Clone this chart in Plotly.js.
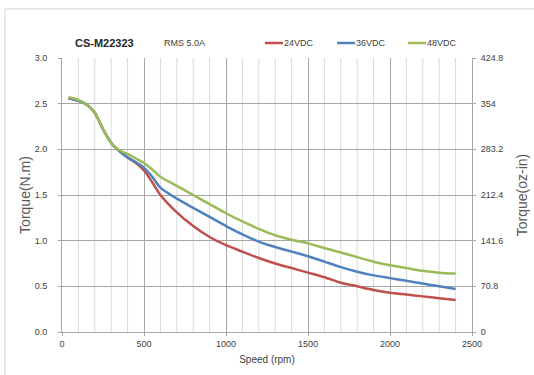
<!DOCTYPE html>
<html><head><meta charset="utf-8">
<script src="https://cdn.plot.ly/plotly-3.0.1.min.js"></script>
<style>html,body{margin:0;padding:0;background:#fff}#chart{width:534px;height:375px}</style>
</head><body><div id="chart"></div>
<script>
const speed = [40,100,150,200,250,300,350,400,450,500,550,600,700,800,900,1000,1100,1200,1300,1400,1500,1600,1700,1800,1900,2000,2100,2200,2300,2400];
const torque24 = [2.56,2.53,2.49,2.40,2.22,2.07,1.98,1.91,1.85,1.77,1.64,1.50,1.31,1.16,1.04,0.95,0.88,0.81,0.75,0.70,0.65,0.60,0.54,0.50,0.46,0.43,0.41,0.39,0.37,0.35];
const torque36 = [2.56,2.53,2.49,2.40,2.22,2.07,1.98,1.91,1.86,1.80,1.70,1.58,1.46,1.36,1.26,1.16,1.07,0.99,0.93,0.88,0.83,0.77,0.71,0.66,0.62,0.59,0.56,0.53,0.50,0.47];
const torque48 = [2.57,2.54,2.49,2.40,2.22,2.07,1.99,1.95,1.90,1.85,1.78,1.70,1.60,1.50,1.40,1.30,1.21,1.13,1.06,1.01,0.97,0.92,0.87,0.82,0.77,0.73,0.70,0.67,0.65,0.64];
const seriesNames = ['24VDC','36VDC','48VDC'];
const leftTicks = [0,0.5,1.0,1.5,2.0,2.5,3.0];
const leftTickText = ['0.0','0.5','1.0','1.5','2.0','2.5','3.0'];
const rightTicks = [0,70.8,141.6,212.4,283.2,354,424.8];
const rightTickText = ['0','70.8','141.6','212.4','283.2','354','424.8'];
const xTicks = [0,500,1000,1500,2000,2500];
const xTickText = ['0','500','1000','1500','2000','2500'];
const xMinorTicks = [100,200,300,400,600,700,800,900,1100,1200,1300,1400,1600,1700,1800,1900,2100,2200,2300,2400];

const colors = ['#C0504D','#4F81BD','#9BBB59'];
const F = 'Liberation Sans, Arial, sans-serif';
const sets = [torque24, torque36, torque48];
const traces = sets.map((t,i)=>({
  x: speed, y: t, type:'scatter', mode:'lines', name: seriesNames[i],
  line:{color:colors[i], width:2.5, shape:'spline', smoothing:0.8}
}));
// invisible trace to hold right axis
traces.push({x:[0,2500], y:[0,424.8], yaxis:'y2', mode:'lines', line:{width:0, color:'rgba(0,0,0,0)'}, showlegend:false, hoverinfo:'skip'});

const shapes = xMinorTicks.map(v=>({type:'line', xref:'x', yref:'paper', x0:v, x1:v, y0:0, y1:1, line:{color:'#d9d9d9', width:1}, layer:'below'}));
shapes.push({type:'line', xref:'paper', yref:'paper', x0:-0.139, x1:1.2, y0:1.179, y1:1.179, line:{color:'#d0d0d0', width:1}});
shapes.push({type:'line', xref:'paper', yref:'paper', x0:-0.139, x1:-0.139, y0:1.179, y1:-0.2, line:{color:'#d0d0d0', width:1}});

// manual legend
const legX = [0.495, 0.671, 0.844];
const legY = 1.0547;
const annotations = [
  {text:'<b>CS-M22323</b>', xref:'paper', yref:'paper', x:0.026, y:legY, xanchor:'left', yanchor:'middle', showarrow:false, font:{size:11, family:F, color:'#262626'}},
  {text:'RMS 5.0A', xref:'paper', yref:'paper', x:0.244, y:legY, xanchor:'left', yanchor:'middle', showarrow:false, font:{size:9, family:F, color:'#404040'}}
];
seriesNames.forEach((n,i)=>{
  shapes.push({type:'line', xref:'paper', yref:'paper', x0:legX[i], x1:legX[i]+0.044, y0:legY, y1:legY, line:{color:colors[i], width:2.5}});
  annotations.push({text:n, xref:'paper', yref:'paper', x:legX[i]+0.044, y:legY, xanchor:'left', yanchor:'middle', showarrow:false, font:{size:9, family:F, color:'#404040'}, xshift:-1});
});

const layout = {
  width:534, height:375,
  margin:{l:62, r:62, t:58, b:43},
  paper_bgcolor:'#fff', plot_bgcolor:'#fff',
  font:{family:F, color:'#404040', size:9},
  showlegend:false,
  xaxis:{range:[0,2500], tickvals:xTicks, ticktext:xTickText,
    showgrid:true, gridcolor:'#a6a6a6', gridwidth:1, zeroline:false, showline:true, linecolor:'#a6a6a6',
    ticks:'outside', ticklen:3, tickcolor:'#a6a6a6', tickfont:{size:9, family:F, color:'#404040'},
    title:{text:'Speed (rpm)', font:{size:10, family:F, color:'#404040'}, standoff:8}},
  yaxis:{range:[0,3.0], tickvals:leftTicks, ticktext:leftTickText, showgrid:true, gridcolor:'#a6a6a6', gridwidth:1,
    zeroline:false, showline:true, linecolor:'#a6a6a6', ticks:'outside', ticklen:3, tickcolor:'#a6a6a6',
    ticklabelstandoff:9,
    tickfont:{size:9, family:F, color:'#404040'},
    title:{text:'Torque(N.m)', font:{size:14, family:F, color:'#595959'}, standoff:0}},
  yaxis2:{range:[0,424.8], overlaying:'y', side:'right', tickvals:rightTicks, ticktext:rightTickText, showgrid:false,
    zeroline:false, showline:true, linecolor:'#a6a6a6', ticks:'outside', ticklen:3, tickcolor:'#a6a6a6',
    ticklabelstandoff:3,
    tickfont:{size:9, family:F, color:'#404040'},
    title:{text:'Torque(oz-in)', font:{size:14, family:F, color:'#595959'}, standoff:14}},
  shapes: shapes,
  annotations: annotations
};
Plotly.newPlot('chart', traces, layout, {displayModeBar:false, staticPlot:true});
</script></body></html>
